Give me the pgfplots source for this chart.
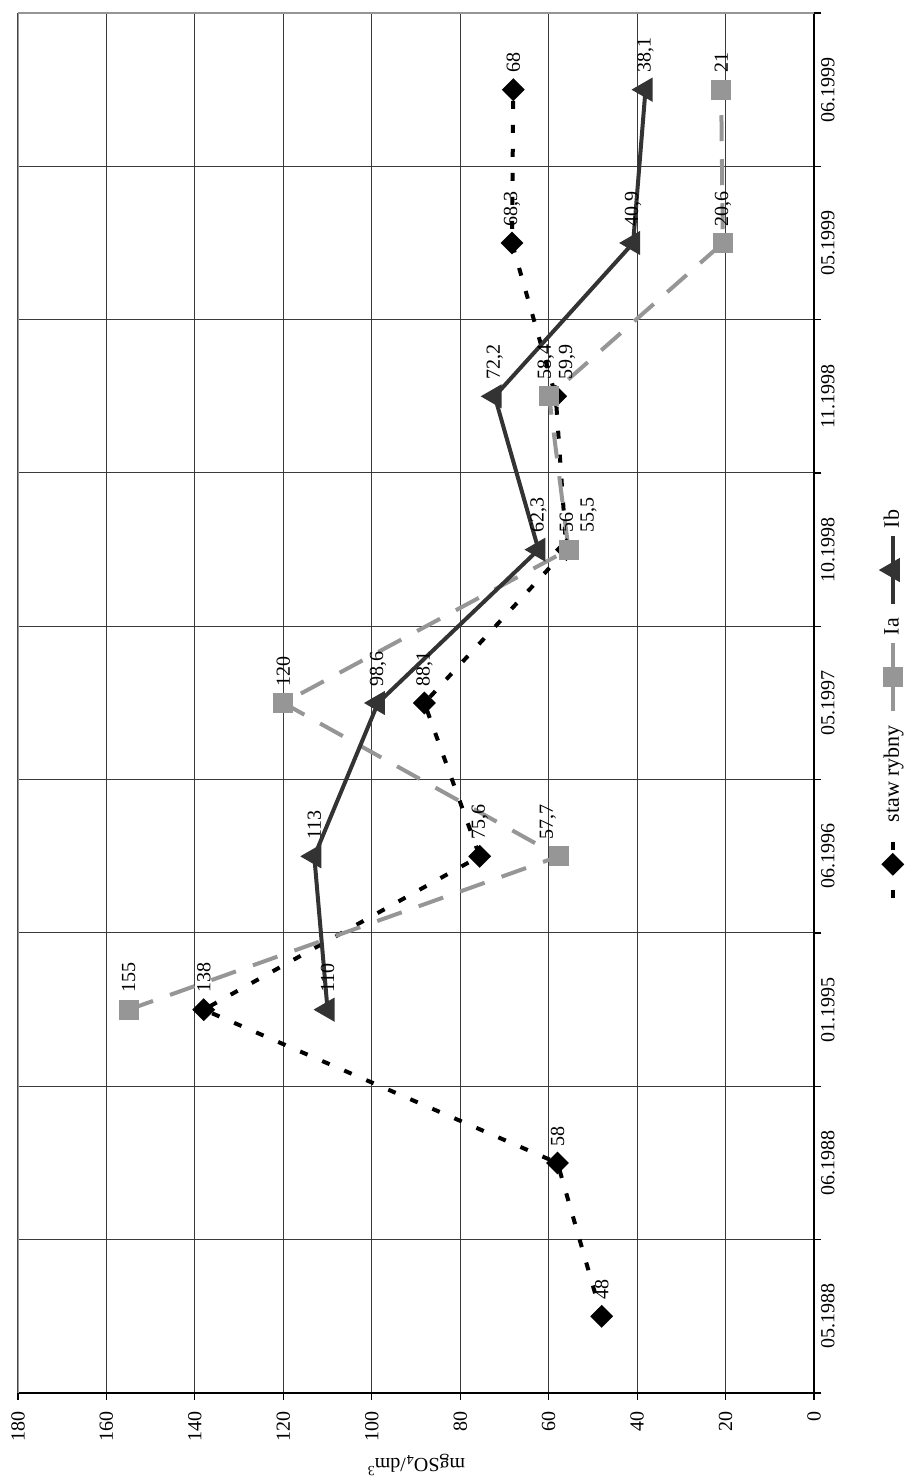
\documentclass[border=0pt]{standalone}
\usepackage{pgfplots}
\pgfplotsset{compat=1.18}
\usepackage{fontspec}
\setmainfont{Liberation Serif}
\definecolor{iagray}{HTML}{969696}
\definecolor{ibgray}{HTML}{333333}
\definecolor{gridc}{HTML}{3A3A3A}
\pgfdeclareplotmark{sqdiamond}{%
  \pgfpathmoveto{\pgfqpoint{0pt}{\pgfplotmarksize}}%
  \pgfpathlineto{\pgfqpoint{\pgfplotmarksize}{0pt}}%
  \pgfpathlineto{\pgfqpoint{0pt}{-\pgfplotmarksize}}%
  \pgfpathlineto{\pgfqpoint{-\pgfplotmarksize}{0pt}}%
  \pgfpathclose\pgfusepathqfillstroke}
\begin{document}
\begin{tikzpicture}
\begin{scope}[rotate=90, transform shape]
\begin{axis}[
  at={(0pt,0pt)}, anchor=south west,
  scale only axis,
  width=690pt, height=398pt,
  xmin=-0.5, xmax=8.5,
  ymin=0, ymax=180,
  xtick={-0.5,0.5,1.5,2.5,3.5,4.5,5.5,6.5,7.5,8.5},
  xticklabels={},
  extra x ticks={0,1,2,3,4,5,6,7,8},
  extra x tick labels={05.1988,06.1988,01.1995,06.1996,05.1997,10.1998,11.1998,05.1999,06.1999},
  extra x tick style={grid=none, major tick length=0pt},
  ytick={0,20,40,60,80,100,120,140,160,180},
  axis x line*=bottom, axis y line*=left,
  axis line style={black, line width=0.9pt},
  tick align=outside,
  major tick length=3.5pt,
  tick style={black, line width=0.6pt},
  xmajorgrids, ymajorgrids,
  grid style={gridc, line width=0.5pt},
  /pgf/number format/assume math mode=true,
  /pgf/number format/use comma,
  /pgf/number format/1000 sep={},
  tick label style={font=\fontsize{10}{12}\selectfont, black},
  yticklabel style={xshift=-2pt},
  every axis y label/.style={at={(axis description cs:0,0.5)}, xshift=-36pt, rotate=90, anchor=center, font=\fontsize{10}{12}\selectfont},
  ylabel={mgSO\textsubscript{4}/dm\textsuperscript{3}},
  nodes near coords,
  every node near coord/.append style={anchor=west, xshift=4pt, black, font=\fontsize{10}{12}\selectfont},
  legend style={at={(axis description cs:0.5,-0.099)}, anchor=center, draw=none, fill=none,
    font=\fontsize{11}{13}\selectfont, legend columns=-1,
    /tikz/every odd column/.append style={column sep=1pt},
    /tikz/every even column/.append style={column sep=4pt}},
  legend image code/.code={\draw[mark repeat=2,mark phase=2,#1] plot coordinates {(0pt,0pt) (17pt,0pt) (34pt,0pt)};},
]
\draw[iagray, line width=0.9pt] (rel axis cs:0,1) -- (rel axis cs:1,1) -- (rel axis cs:1,0);
\addplot[black, line width=2pt, dash pattern=on 4pt off 8pt, mark=sqdiamond, mark size=4.3pt,
  mark options={solid, fill=black},
  visualization depends on={\thisrow{dy}\as\dy},
  every node near coord/.append style={yshift=\dy pt}]
  table {
x y dy
0 48 0
1 58 0
2 138 0
3 75.6 0
4 88.1 0
5 56 0
6 58.4 5
7 68.3 0
8 68 0
};
\addlegendentry{staw rybny}
\addplot[iagray, line width=2pt, dash pattern=on 13pt off 9pt, mark=square*, mark size=4pt,
  mark options={solid, fill=iagray},
  visualization depends on={\thisrow{dy}\as\dy},
  every node near coord/.append style={yshift=\dy pt}]
  table {
x y dy
2 155 0
3 57.7 5.5
4 120 0
5 55.5 -10
6 59.9 -9
7 20.6 0
8 21 0
};
\addlegendentry{Ia}
\addplot[ibgray, line width=2pt, solid, mark=triangle*, mark size=5pt,
  mark options={solid, fill=ibgray}]
  coordinates {(2,110) (3,113) (4,98.6) (5,62.3) (6,72.2) (7,40.9) (8,38.1)};
\addlegendentry{Ib}
\end{axis}
\end{scope}
\pgfresetboundingbox
\path[rotate=90] (-44.5pt,-47.5pt) rectangle (696.5pt,407pt);
\end{tikzpicture}
\end{document}
